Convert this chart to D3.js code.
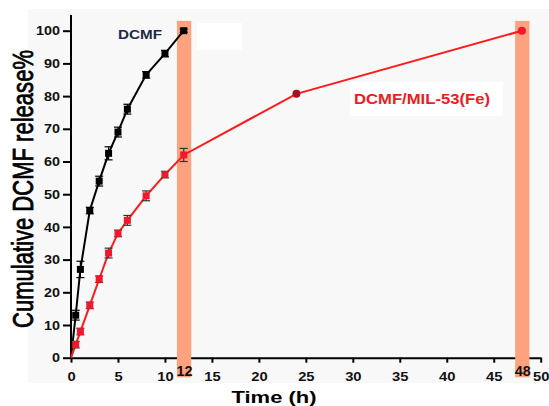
<!DOCTYPE html>
<html><head><meta charset="utf-8">
<script src="https://cdn.jsdelivr.net/npm/d3@7"></script>
<style>
body{margin:0;background:#fff;}
svg{display:block;font-family:"Liberation Sans",Arial,sans-serif;}
</style></head>
<body>
<svg id="c" width="549" height="406"></svg>
<script>
// ---- data ----
const dcmfTime = [0, 0.5, 1, 2, 3, 4, 5, 6, 8, 10, 12];
const dcmfRelease = [0, 13, 27, 45, 54, 62.5, 69, 76, 86.5, 93, 100];
const dcmfErr = [0, 1.5, 2.5, 1, 1.5, 2, 1.5, 1.5, 1, 1, 0.5];

const mofTime = [0, 0.5, 1, 2, 3, 4, 5, 6, 8, 10, 12, 24, 48];
const mofRelease = [0, 4, 8, 16, 24, 32, 38, 42, 49.5, 56, 62, 80.7, 100];
const mofErr = [0, 1, 1, 1, 1, 1.5, 1, 1.5, 1.5, 1, 2, 0, 0];

const xTicks = [0, 5, 10, 15, 20, 25, 30, 35, 40, 45, 50];
const yTicks = [0, 10, 20, 30, 40, 50, 60, 70, 80, 90, 100];
const highlightTimes = [12, 48];
const highlightLabels = ["12", "48"];
const seriesNames = ["DCMF", "DCMF/MIL-53(Fe)"];

// ---- drawing ----
const svg = d3.select("#c");
const x = d3.scaleLinear().domain([0, 50]).range([71, 540.7]);
const y = d3.scaleLinear().domain([0, 104.8]).range([357.7, 15]);

// background
svg.append("rect").attr("x", 28).attr("y", 9).attr("width", 521).attr("height", 374).attr("fill", "#f8f8f8");
// white patches (image artifacts)
svg.append("rect").attr("x", 197).attr("y", 23).attr("width", 45).attr("height", 27).attr("fill", "#ffffff");
svg.append("rect").attr("x", 350).attr("y", 82).attr("width", 153).attr("height", 34).attr("fill", "#ffffff");

// axes
const gx = svg.append("g").attr("transform", `translate(0,${y(0)})`)
  .call(d3.axisBottom(x).tickValues(xTicks).tickSize(5).tickSizeOuter(0).tickPadding(4));
const gy = svg.append("g").attr("transform", `translate(${x(0)},0)`)
  .call(d3.axisLeft(y).tickValues(yTicks).tickSize(8).tickSizeOuter(0).tickPadding(3));
[gx, gy].forEach(g => {
  g.select(".domain").attr("stroke", "#000").attr("stroke-width", 2);
  g.selectAll(".tick line").attr("stroke", "#000").attr("stroke-width", 2);
});
gx.selectAll(".tick text").attr("font-size", 12.5).attr("font-weight", "bold").attr("fill", "#111")
  .attr("dy", "0.71em").attr("y", 14.5)
  .attr("textLength", d => String(d).length * 8.2).attr("lengthAdjust", "spacingAndGlyphs")
  .attr("font-family", "Liberation Sans, Arial, sans-serif");
gy.selectAll(".tick text").attr("font-size", 13).attr("font-weight", "bold").attr("fill", "#111")
  .attr("textLength", d => String(d).length * 8).attr("lengthAdjust", "spacingAndGlyphs")
  .attr("font-family", "Liberation Sans, Arial, sans-serif");
// extend y domain line to the top
gy.select(".domain").attr("d", `M0,${y(0)}V${y(104.8)}`);

// highlight bars
svg.append("g").selectAll("rect").data(highlightTimes).join("rect")
  .attr("x", d => x(d - 0.72)).attr("width", d => x(d + 0.8) - x(d - 0.72))
  .attr("y", y(103)).attr("height", y(-6) - y(103))
  .attr("fill", "#fda27f");
svg.append("g").selectAll("text").data(highlightLabels).join("text")
  .attr("x", (d, i) => x(highlightTimes[i]) + 0.8).attr("y", 375.5)
  .attr("text-anchor", "middle").attr("font-size", 15).attr("font-weight", "bold")
  .attr("fill", "#111").attr("textLength", 16).attr("lengthAdjust", "spacingAndGlyphs")
  .text(d => d);

// series
function drawSeries(times, vals, errs, color, edge) {
  const pts = times.map((t, i) => ({t, v: vals[i], e: errs[i]}));
  const g = svg.append("g");
  g.append("path").datum(pts)
    .attr("d", d3.line().x(d => x(d.t)).y(d => y(d.v)))
    .attr("fill", "none").attr("stroke", color).attr("stroke-width", 2);
  const eb = g.selectAll(".eb").data(pts.filter(d => d.e > 0)).join("g");
  eb.append("line").attr("x1", d => x(d.t)).attr("x2", d => x(d.t))
    .attr("y1", d => y(d.v - d.e)).attr("y2", d => y(d.v + d.e)).attr("stroke", edge).attr("stroke-width", 1.2);
  eb.append("line").attr("x1", d => x(d.t) - 4).attr("x2", d => x(d.t) + 4)
    .attr("y1", d => y(d.v - d.e)).attr("y2", d => y(d.v - d.e)).attr("stroke", edge).attr("stroke-width", 1.2);
  eb.append("line").attr("x1", d => x(d.t) - 4).attr("x2", d => x(d.t) + 4)
    .attr("y1", d => y(d.v + d.e)).attr("y2", d => y(d.v + d.e)).attr("stroke", edge).attr("stroke-width", 1.2);
  return {g, pts};
}

const s1 = drawSeries(dcmfTime, dcmfRelease, dcmfErr, "#000000", "#000000");
s1.g.selectAll(".m").data(s1.pts.filter(d => d.t > 0)).join("rect")
  .attr("x", d => x(d.t) - 3.5).attr("y", d => y(d.v) - 3.5)
  .attr("width", 7).attr("height", 7).attr("fill", "#000");

const s2 = drawSeries(mofTime, mofRelease, mofErr, "#ff1a1a", "#333333");
s2.g.selectAll(".m").data(s2.pts.filter(d => d.t > 0 && d.t <= 12)).join("rect")
  .attr("x", d => x(d.t) - 3.5).attr("y", d => y(d.v) - 3.5)
  .attr("width", 7).attr("height", 7).attr("fill", "#f0182a");
s2.g.selectAll(".c").data(s2.pts.filter(d => d.t > 12)).join("circle")
  .attr("cx", d => x(d.t)).attr("cy", d => y(d.v)).attr("r", 4)
  .attr("fill", d => d.t === 24 ? "#a50f1e" : "#f0182a");

// series labels
svg.append("text").attr("x", 118).attr("y", 39).attr("font-size", 13).attr("font-weight", "bold")
  .attr("fill", "#1b2a4a").attr("textLength", 44).attr("lengthAdjust", "spacingAndGlyphs").text(seriesNames[0]);
svg.append("text").attr("x", 354).attr("y", 104).attr("font-size", 14.5).attr("font-weight", "bold")
  .attr("fill", "#ee1c1c").attr("textLength", 136).attr("lengthAdjust", "spacingAndGlyphs").text(seriesNames[1]);

// axis titles
svg.append("text").attr("x", 274).attr("y", 403).attr("text-anchor", "middle")
  .attr("font-size", 17).attr("font-weight", "bold").attr("fill", "#000")
  .attr("textLength", 85).attr("lengthAdjust", "spacingAndGlyphs").text("Time (h)");
svg.append("text").attr("transform", "translate(33,189) scale(1.3,1) rotate(-90)")
  .attr("text-anchor", "middle").attr("font-size", 22).attr("font-weight", "normal").attr("fill", "#000")
  .attr("stroke", "#000").attr("stroke-width", 0.6)
  .attr("textLength", 278).attr("lengthAdjust", "spacingAndGlyphs")
  .text("Cumulative DCMF release%");
</script>
</body></html>
